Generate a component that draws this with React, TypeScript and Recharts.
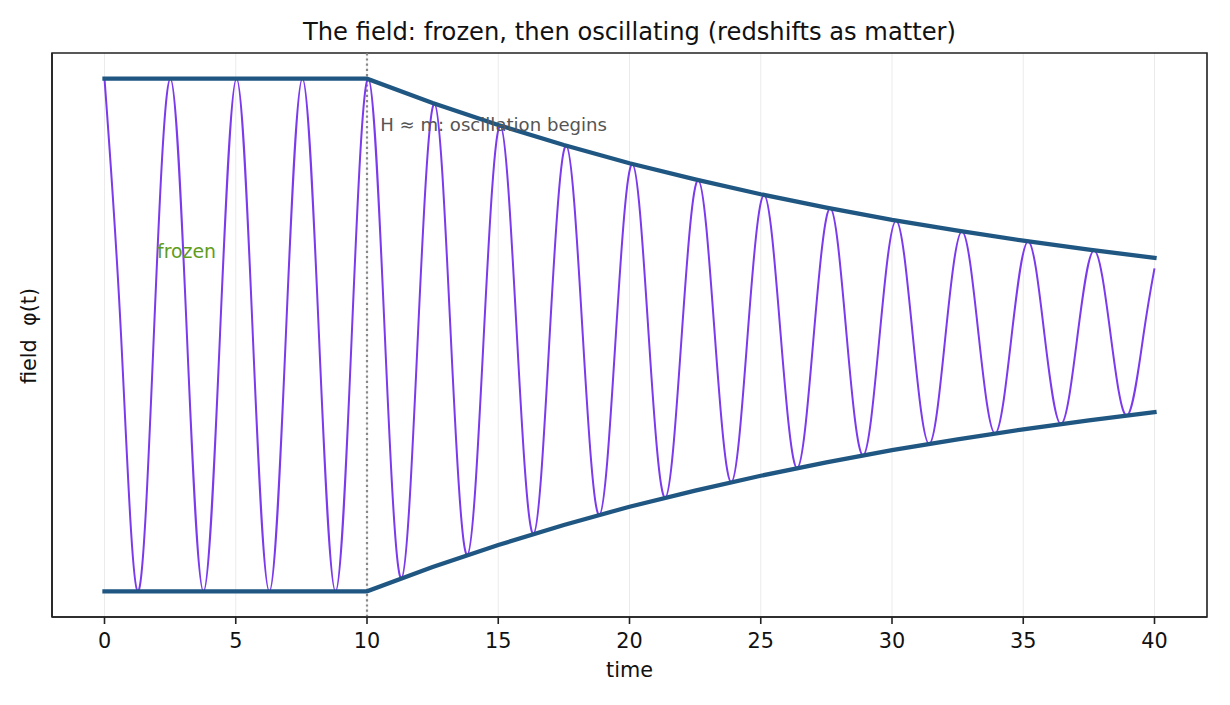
import React from 'react';
import { LineChart, Line, XAxis, YAxis, CartesianGrid, ReferenceDot, ReferenceArea } from 'recharts';

// field samples: extrema and zero crossings
const oscTimes = [
  0, 0.63, 1.26, 1.88, 2.51, 3.14, 3.77, 4.4, 5.03, 5.65, 6.28, 6.91, 7.54, 8.17, 8.8, 9.42,
  10.05, 10.68, 11.31, 11.94, 12.57, 13.19, 13.82, 14.45, 15.08, 15.71, 16.34, 16.96, 17.59, 18.22,
  18.85, 19.48, 20.11, 20.73, 21.36, 21.99, 22.62, 23.25, 23.88, 24.5, 25.13, 25.76, 26.39, 27.02,
  27.65, 28.27, 28.9, 29.53, 30.16, 30.79, 31.42, 32.04, 32.67, 33.3, 33.93, 34.56, 35.19, 35.81,
  36.44, 37.07, 37.7, 38.33, 38.96, 39.58, 40,
];
const oscValues = [
  1, 0, -1, 0, 1, 0, -1, 0, 1, 0, -1, 0, 1, 0, -1, 0,
  1, 0, -0.949, 0, 0.902, 0, -0.858, 0, 0.816, 0, -0.776, 0, 0.738, 0,
  -0.702, 0, 0.667, 0, -0.635, 0, 0.604, 0, -0.574, 0, 0.546, 0, -0.519, 0,
  0.494, 0, -0.469, 0, 0.446, 0, -0.425, 0, 0.404, 0, -0.384, 0, 0.365, 0,
  -0.347, 0, 0.33, 0, -0.314, 0, 0.26,
];

// envelope
const envTimes = [0, 10, 12.5, 15, 17.5, 20, 22.5, 25, 27.5, 30, 32.5, 35, 37.5, 40];
const envUpper = [1, 1, 0.905, 0.819, 0.741, 0.67, 0.607, 0.549, 0.497, 0.449, 0.407, 0.368, 0.333, 0.301];
const envLower = [-1, -1, -0.905, -0.819, -0.741, -0.67, -0.607, -0.549, -0.497, -0.449, -0.407, -0.368, -0.333, -0.301];

const xTicks = [0, 5, 10, 15, 20, 25, 30, 35, 40];
const xDomain = [-2, 42];
const yDomain = [-1.1, 1.1];
const onsetTime = 10;

const oscData = oscTimes.map((t, i) => ({ t, phi: oscValues[i] }));
const upperData = envTimes.map((t, i) => ({ t, env: envUpper[i] }));
const lowerData = envTimes.map((t, i) => ({ t, env: envLower[i] }));
const onsetData = yDomain.map((v) => ({ t: onsetTime, mark: v }));

const FONT = '"DejaVu Sans", sans-serif';
const AXIS = '#222';
const ENV = '#1f5782';

const W = 1230;
const H = 705;

function makeLabel(text: string, color: string, size: number) {
  return (props: any) => {
    const vb = props.viewBox;
    return (
      <text
        x={vb.x + vb.width / 2}
        y={vb.y + vb.height / 2}
        fill={color}
        fontSize={size}
        fontFamily={FONT}
        textAnchor="start"
      >
        {text}
      </text>
    );
  };
}

export default function App() {
  return (
    <div style={{ position: 'absolute', left: 0, top: 0, width: W, height: H, background: '#fff' }}>
      <LineChart width={W} height={H} data={oscData} margin={{ top: 53, right: 23, bottom: 0, left: 0 }}>
        <CartesianGrid horizontal={false} stroke="#ebebeb" strokeWidth={1} />
        <XAxis
          dataKey="t"
          type="number"
          domain={xDomain}
          allowDataOverflow
          ticks={xTicks}
          height={88}
          tickSize={7}
          tickMargin={9}
          stroke={AXIS}
          strokeWidth={1.6}
          tick={{ fill: '#111', fontSize: 20.8, fontFamily: FONT }}
        />
        <YAxis
          type="number"
          domain={yDomain}
          allowDataOverflow
          width={52}
          tick={false}
          tickLine={false}
          stroke={AXIS}
          strokeWidth={1.6}
        />
        <ReferenceArea
          x1={xDomain[0]}
          x2={xDomain[1]}
          y1={yDomain[0]}
          y2={yDomain[1]}
          fill="none"
          fillOpacity={0}
          stroke={AXIS}
          strokeWidth={1.6}
          strokeOpacity={1}
        />
        <ReferenceDot x={10.5} y={0.797} r={1} fill="none" stroke="none" label={makeLabel('H ≈ m: oscillation begins', '#555', 18.1)} />
        <ReferenceDot x={2} y={0.3} r={1} fill="none" stroke="none" label={makeLabel('frozen', '#5f9c1c', 18.9)} />
        <Line
          data={onsetData}
          dataKey="mark"
          type="linear"
          stroke="#888"
          strokeWidth={2.2}
          strokeDasharray="2.2 3"
          dot={false}
          activeDot={false}
          isAnimationActive={false}
        />
        <Line
          data={oscData}
          dataKey="phi"
          type="natural"
          stroke="#7c3aed"
          strokeWidth={2}
          dot={false}
          activeDot={false}
          isAnimationActive={false}
        />
        <Line
          data={upperData}
          dataKey="env"
          type="linear"
          stroke={ENV}
          strokeWidth={4.3}
          strokeLinecap="square"
          dot={false}
          activeDot={false}
          isAnimationActive={false}
        />
        <Line
          data={lowerData}
          dataKey="env"
          type="linear"
          stroke={ENV}
          strokeWidth={4.3}
          strokeLinecap="square"
          dot={false}
          activeDot={false}
          isAnimationActive={false}
        />
      </LineChart>
      <svg
        width={W}
        height={H}
        style={{ position: 'absolute', left: 0, top: 0, pointerEvents: 'none' }}
      >
        <text x={629.5} y={39.5} textAnchor="middle" fontSize={24.2} fontFamily={FONT} fill="#111">
          The field: frozen, then oscillating (redshifts as matter)
        </text>
        <text x={629.5} y={677} textAnchor="middle" fontSize={20.8} fontFamily={FONT} fill="#111">
          time
        </text>
        <text
          x={36}
          y={336}
          textAnchor="middle"
          fontSize={20.8}
          fontFamily={FONT}
          fill="#111"
          transform="rotate(-90 36 336)"
          style={{ whiteSpace: 'pre' }}
        >
          {'field  φ(t)'}
        </text>
      </svg>
    </div>
  );
}
